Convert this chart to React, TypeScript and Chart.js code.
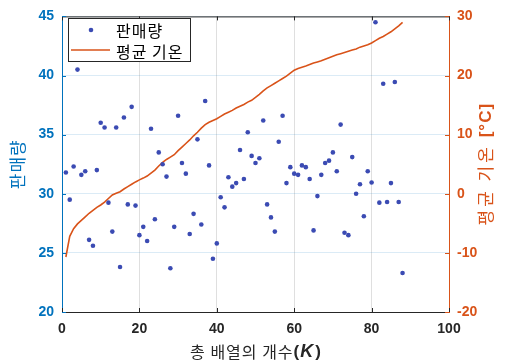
import React, { useEffect, useRef } from "react";
import { Chart, registerables } from "chart.js";

Chart.register(...registerables);

const salesX: number[] = Array.from({ length: 88 }, (_, i) => i + 1);
const salesY: number[] = [
  31.8, 29.5, 32.3, 40.5, 31.6, 31.9, 26.1, 25.6, 32.0, 36.0,
  35.6, 29.25, 26.8, 35.6, 23.8, 36.45, 29.1, 37.35, 29.0, 26.5,
  27.2, 26.0, 35.5, 27.85, 33.5, 32.5, 31.45, 23.7, 27.2, 36.6,
  32.6, 31.7, 26.6, 28.3, 34.6, 27.4, 37.85, 32.4, 24.5, 25.8,
  29.7, 28.85, 31.4, 30.6, 30.9, 33.7, 31.25, 35.2, 33.2, 32.6,
  33.0, 36.2, 29.1, 28.0, 26.8, 34.4, 36.6, 30.9, 32.25, 31.7,
  31.6, 32.4, 32.25, 31.25, 26.9, 29.8, 31.6, 32.6, 32.8, 33.5,
  31.9, 35.85, 26.7, 26.5, 33.1, 30.0, 30.8, 28.1, 31.9, 30.95,
  44.5, 29.25, 39.3, 29.3, 30.9, 39.45, 29.3, 23.3,
];
const tempY: number[] = [
  -10.7, -7.2, -5.9, -5.1, -4.5, -3.9, -3.3, -2.8, -2.3, -1.9,
  -1.4, -0.8, -0.2, 0.1, 0.35, 0.8, 1.2, 1.6, 2.0, 2.35,
  2.65, 3.0, 3.5, 4.0, 4.7, 5.3, 5.8, 6.2, 6.6, 7.3,
  7.9, 8.5, 9.1, 9.8, 10.4, 11.1, 11.7, 12.1, 12.4, 12.7,
  13.1, 13.5, 13.8, 14.1, 14.5, 14.8, 15.1, 15.5, 15.8, 16.3,
  16.8, 17.4, 17.9, 18.3, 18.7, 19.1, 19.5, 19.9, 20.4, 20.9,
  21.2, 21.4, 21.6, 21.85, 22.1, 22.3, 22.5, 22.75, 23.0, 23.25,
  23.5, 23.7, 23.9, 24.1, 24.3, 24.5, 24.8, 25.0, 25.2, 25.5,
  25.9, 26.3, 26.6, 27.0, 27.4, 27.9, 28.4, 29.0,
];
const xTicks: number[] = [0, 20, 40, 60, 80, 100];
const leftTicks: number[] = [20, 25, 30, 35, 40, 45];
const rightTicks: number[] = [-20, -10, 0, 10, 20, 30];
const salesLabel = "판매량";
const tempLabel = "평균 기온";

const BLUE = "#0072BD";
const ORANGE = "#D95319";
const DOT = "#3B4BB3";
const DARK = "#262626";
const KR = "'Noto Sans CJK KR', sans-serif";
const LAT = "'Liberation Sans', Arial, sans-serif";

type Part = { text: string; font: string; spacing?: number };

function measureParts(ctx: CanvasRenderingContext2D, parts: Part[]) {
  let w = 0;
  for (const p of parts) {
    ctx.font = p.font;
    (ctx as any).letterSpacing = (p.spacing ?? 0) + "px";
    w += ctx.measureText(p.text).width;
  }
  return w;
}

function drawParts(ctx: CanvasRenderingContext2D, parts: Part[], cx: number, cy: number, rot: number, color: string) {
  ctx.save();
  ctx.translate(cx, cy);
  ctx.rotate(rot);
  ctx.fillStyle = color;
  ctx.textBaseline = "middle";
  ctx.textAlign = "left";
  const total = measureParts(ctx, parts);
  let x = -total / 2;
  for (const p of parts) {
    ctx.font = p.font;
    (ctx as any).letterSpacing = (p.spacing ?? 0) + "px";
    ctx.fillText(p.text, x, 0);
    x += ctx.measureText(p.text).width;
  }
  (ctx as any).letterSpacing = "0px";
  ctx.restore();
}

const decorPlugin = {
  id: "decor",
  afterDraw(chart: any) {
    const ctx: CanvasRenderingContext2D = chart.ctx;
    const ca = chart.chartArea;
    const xs = chart.scales.x;
    const yl = chart.scales.y;
    const yr = chart.scales.y1;
    ctx.save();
    // top border
    ctx.strokeStyle = DARK;
    ctx.lineWidth = 1;
    ctx.beginPath();
    ctx.moveTo(ca.left, ca.top + 0.5);
    ctx.lineTo(ca.right, ca.top + 0.5);
    ctx.stroke();
    // inward ticks
    const tl = 4;
    for (const v of xTicks) {
      const px = Math.round(xs.getPixelForValue(v)) + 0.5;
      ctx.beginPath();
      ctx.moveTo(px, ca.bottom);
      ctx.lineTo(px, ca.bottom - tl);
      ctx.moveTo(px, ca.top);
      ctx.lineTo(px, ca.top + tl);
      ctx.stroke();
    }
    ctx.strokeStyle = BLUE;
    for (const v of leftTicks) {
      const py = Math.round(yl.getPixelForValue(v)) + 0.5;
      ctx.beginPath();
      ctx.moveTo(ca.left, py);
      ctx.lineTo(ca.left + tl, py);
      ctx.stroke();
    }
    ctx.strokeStyle = ORANGE;
    for (const v of rightTicks) {
      const py = Math.round(yr.getPixelForValue(v)) + 0.5;
      ctx.beginPath();
      ctx.moveTo(ca.right, py);
      ctx.lineTo(ca.right - tl, py);
      ctx.stroke();
    }

    // legend
    const lx = 68, ly = 18, lw = 122, lh = 43;
    ctx.fillStyle = "#ffffff";
    ctx.fillRect(lx, ly, lw, lh);
    ctx.strokeStyle = DARK;
    ctx.lineWidth = 1;
    ctx.strokeRect(lx + 0.5, ly + 0.5, lw, lh);
    ctx.fillStyle = DOT;
    ctx.beginPath();
    ctx.arc(91, 30, 2.3, 0, Math.PI * 2);
    ctx.fill();
    ctx.strokeStyle = ORANGE;
    ctx.lineWidth = 1.5;
    ctx.beginPath();
    ctx.moveTo(71, 50);
    ctx.lineTo(110, 50);
    ctx.stroke();
    ctx.fillStyle = "#000000";
    ctx.font = "16px " + KR;
    (ctx as any).letterSpacing = "1px";
    ctx.textBaseline = "middle";
    ctx.textAlign = "left";
    ctx.fillText(salesLabel, 116, 31);
    ctx.fillText(tempLabel, 116, 52);
    (ctx as any).letterSpacing = "0px";
    ctx.restore();

    // axis titles
    const cx = (ca.left + ca.right) / 2;
    const cy = (ca.top + ca.bottom) / 2;
    drawParts(
      ctx,
      [
        { text: "총 배열의 개수", font: "16px " + KR, spacing: 1 },
        { text: "(", font: "bold 17px " + LAT, spacing: 1 },
        { text: "K", font: "italic bold 18px " + LAT, spacing: 2 },
        { text: ")", font: "bold 17px " + LAT },
      ],
      cx,
      352,
      0,
      DARK
    );
    drawParts(ctx, [{ text: "판매량", font: "17px " + KR, spacing: 1 }], 18, cy, -Math.PI / 2, BLUE);
    drawParts(
      ctx,
      [
        { text: "평균 기온 ", font: "17px " + KR, spacing: 3 },
        { text: "[°C]", font: "bold 17px " + LAT, spacing: 1 },
      ],
      486,
      cy,
      -Math.PI / 2,
      ORANGE
    );
  },
};

export default function App() {
  const ref = useRef<HTMLCanvasElement | null>(null);
  useEffect(() => {
    if (!ref.current) return;
    const tickFont = { family: LAT, size: 14, weight: "bold" as const };
    const chart = new Chart(ref.current, {
      type: "scatter",
      data: {
        datasets: [
          {
            type: "line",
            label: tempLabel,
            data: salesX.map((x, i) => ({ x, y: tempY[i] })),
            yAxisID: "y1",
            borderColor: ORANGE,
            borderWidth: 1.6,
            pointRadius: 0,
            fill: false,
            tension: 0,
            order: 2,
          } as any,
          {
            type: "scatter",
            label: salesLabel,
            data: salesX.map((x, i) => ({ x, y: salesY[i] })),
            yAxisID: "y",
            backgroundColor: DOT,
            borderColor: DOT,
            pointRadius: 2.3,
            borderWidth: 0,
            order: 1,
          },
        ],
      },
      options: {
        responsive: false,
        animation: false,
        devicePixelRatio: 1,
        layout: { padding: { top: 12, left: 0, right: 0, bottom: 0 } },
        plugins: { legend: { display: false }, tooltip: { enabled: false } },
        scales: {
          x: {
            type: "linear",
            position: "bottom",
            min: 0,
            max: 100,
            afterBuildTicks: (s: any) => {
              s.ticks = xTicks.map((v) => ({ value: v }));
            },
            afterFit: (s: any) => {
              s.height = 52;
            },
            ticks: { color: DARK, font: tickFont, padding: 9, maxRotation: 0 },
            grid: { color: "rgba(38,38,38,0.15)", drawTicks: false },
            border: { display: true, color: DARK, width: 1 },
          },
          y: {
            type: "linear",
            position: "left",
            min: 20,
            max: 45,
            afterBuildTicks: (s: any) => {
              s.ticks = leftTicks.map((v) => ({ value: v }));
            },
            afterFit: (s: any) => {
              s.width = 62;
            },
            ticks: { color: BLUE, font: tickFont, padding: 8 },
            grid: { color: "rgba(0,114,189,0.14)", drawTicks: false },
            border: { display: true, color: BLUE, width: 1 },
          },
          y1: {
            type: "linear",
            position: "right",
            min: -20,
            max: 30,
            afterBuildTicks: (s: any) => {
              s.ticks = rightTicks.map((v) => ({ value: v }));
            },
            afterFit: (s: any) => {
              s.width = 56;
            },
            ticks: { color: ORANGE, font: tickFont, padding: 8 },
            grid: { drawOnChartArea: false, drawTicks: false },
            border: { display: true, color: ORANGE, width: 1 },
          },
        },
      } as any,
      plugins: [decorPlugin],
    });
    return () => chart.destroy();
  }, []);
  return (
    <div style={{ position: "fixed", left: 0, top: 0, width: 505, height: 364, background: "#ffffff" }}>
      <canvas ref={ref} width={505} height={364} style={{ width: 505, height: 364, display: "block" }} />
    </div>
  );
}
